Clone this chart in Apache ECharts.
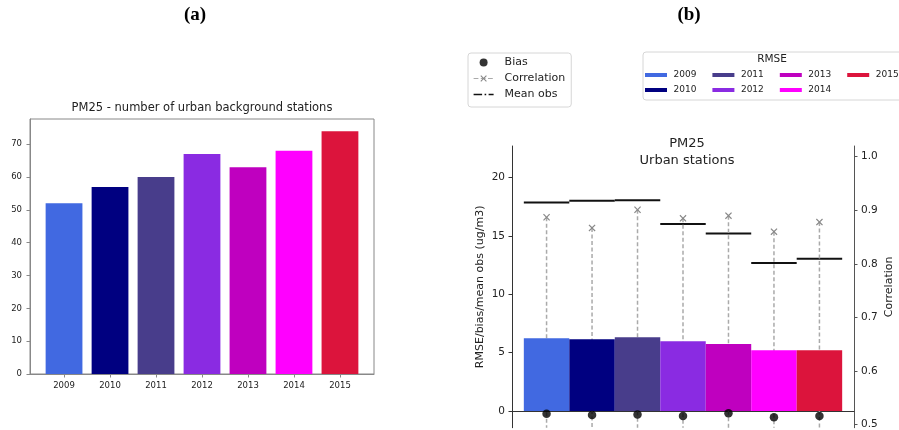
<!DOCTYPE html>
<html>
<head>
<meta charset="utf-8">
<script src="https://cdn.jsdelivr.net/npm/echarts@6/dist/echarts.min.js"></script>
<style>
  html, body { margin: 0; padding: 0; background: #fff; }
  #main { width: 899px; height: 430px; }
</style>
</head>
<body>
<div id="main"></div>
<script>
// data
var years = ['2009', '2010', '2011', '2012', '2013', '2014', '2015'];
var yearColors = ['#4169E1', '#000080', '#483D8B', '#8A2BE2', '#BF00BF', '#FF00FF', '#DC143C'];
var stationCounts = [52, 57, 60, 67, 63, 68, 74];   // panel (a)
var rmse = [6.23, 6.14, 6.32, 5.97, 5.74, 5.2, 5.2];  // panel (b), bars
var meanObs = [17.85, 18.0, 18.05, 16.02, 15.2, 12.68, 13.05];
var bias = [-0.23, -0.34, -0.3, -0.43, -0.2, -0.54, -0.43];
var correlation = [0.887, 0.867, 0.901, 0.885, 0.890, 0.860, 0.878];
var countTicks = [0, 10, 20, 30, 40, 50, 60, 70];
var rmseTicks = [0, 5, 10, 15, 20];
var corrTicks = [0.5, 0.6, 0.7, 0.8, 0.9, 1.0];
var yearPos = [0, 1, 2, 3, 4, 5, 6];

var FONT = 'DejaVu Sans';
var chart = echarts.init(document.getElementById('main'), null, { renderer: 'canvas' });

var xMark = 'path://M0,1.2 L1.2,0 L5,3.8 L8.8,0 L10,1.2 L6.2,5 L10,8.8 L8.8,10 L5,6.2 L1.2,10 L0,8.8 L3.8,5 Z';
var dashDot = 'path://M0,0h8.5v1.6h-8.5z M11,0h1.6v1.6h-1.6z M15,0h5v1.6h-5z';

var series = [];
// (a) stations per year
series.push({
  name: 'stations',
  type: 'bar',
  xAxisIndex: 0,
  yAxisIndex: 0,
  barWidth: '80%',
  data: stationCounts.map(function (v, i) {
    return { value: [i, v], itemStyle: { color: yearColors[i] } };
  })
});
// (b) RMSE, one series per year so the legend gets one entry each
years.forEach(function (y, i) {
  series.push({
    name: y,
    type: 'bar',
    xAxisIndex: 1,
    yAxisIndex: 1,
    barWidth: '100%',
    barGap: '-100%',
    itemStyle: { color: yearColors[i] },
    data: [[i, rmse[i]]]
  });
});
series.push({
  name: 'Mean obs',
  type: 'custom',
  xAxisIndex: 1,
  yAxisIndex: 1,
  itemStyle: { color: '#111' },
  data: meanObs.map(function (v, i) { return [i, v]; }),
  renderItem: function (params, api) {
    var x = api.value(0), y = api.value(1);
    var p0 = api.coord([x - 0.5, y]);
    var p1 = api.coord([x + 0.5, y]);
    return {
      type: 'line',
      shape: { x1: p0[0], y1: p0[1], x2: p1[0], y2: p1[1] },
      style: { stroke: '#111', lineWidth: 2 }
    };
  }
});
series.push({
  name: 'corrStem',
  type: 'custom',
  xAxisIndex: 1,
  yAxisIndex: 2,
  data: correlation.map(function (v, i) { return [i, v]; }),
  renderItem: function (params, api) {
    var p = api.coord([api.value(0), api.value(1)]);
    var bottom = params.coordSys.y + params.coordSys.height;
    return {
      type: 'line',
      shape: { x1: p[0], y1: p[1], x2: p[0], y2: bottom },
      style: { stroke: '#aaaaaa', lineWidth: 1.5, lineDash: [4, 2.5] }
    };
  }
});
series.push({
  name: 'Correlation',
  type: 'line',
  xAxisIndex: 1,
  yAxisIndex: 2,
  symbol: xMark,
  symbolSize: 7,
  lineStyle: { opacity: 0 },
  itemStyle: { color: '#888888' },
  data: correlation.map(function (v, i) { return [i, v]; })
});
series.push({
  name: 'Bias',
  type: 'scatter',
  xAxisIndex: 1,
  yAxisIndex: 1,
  symbol: 'circle',
  symbolSize: 8.5,
  itemStyle: { color: '#000' },
  data: bias.map(function (v, i) { return [i, v]; })
});

var option = {
  animation: false,
  textStyle: { fontFamily: FONT },
  title: [
    { text: '(a)', left: 195, top: 6, padding: 0, textAlign: 'center',
      textStyle: { fontFamily: 'Liberation Serif', fontWeight: 'bold', fontSize: 19, color: '#000' } },
    { text: '(b)', left: 689, top: 6, padding: 0, textAlign: 'center',
      textStyle: { fontFamily: 'Liberation Serif', fontWeight: 'bold', fontSize: 19, color: '#000' } },
    { text: 'PM25 - number of urban background stations', left: 202, top: 102, padding: 0, textAlign: 'center',
      textStyle: { fontFamily: FONT, fontWeight: 'normal', fontSize: 11.5, color: '#222' } },
    { text: 'PM25\nUrban stations', left: 687, top: 135, padding: 0, textAlign: 'center',
      textStyle: { fontFamily: FONT, fontWeight: 'normal', fontSize: 13, lineHeight: 17, color: '#222' } },
    { text: 'RMSE', left: 772, top: 54, padding: 0, textAlign: 'center',
      textStyle: { fontFamily: FONT, fontWeight: 'normal', fontSize: 10.5, color: '#222' } }
  ],
  legend: [
    {
      data: [
        { name: 'Bias', icon: 'circle' },
        { name: 'Correlation', lineStyle: { color: '#aaaaaa', type: 'dashed', width: 1.2, opacity: 1 } },
        { name: 'Mean obs', icon: dashDot }
      ],
      orient: 'vertical',
      left: 468, top: 53,
      padding: [4, 6, 7, 5],
      itemWidth: 20, itemHeight: 8, itemGap: 5,
      borderColor: '#d6d6d6', borderWidth: 1, borderRadius: 3,
      textStyle: { fontFamily: FONT, fontSize: 11, color: '#222', padding: [0, 0, 0, 6] },
      selectedMode: false
    },
    {
      data: ['2009', '2011', '2013', '2015'],
      orient: 'horizontal',
      left: 643, top: 52, width: 300,
      padding: [18.5, 80, 20.5, 2],
      itemWidth: 22, itemHeight: 4, itemGap: 16, icon: 'rect',
      borderColor: '#d6d6d6', borderWidth: 1, borderRadius: 3,
      textStyle: { fontFamily: FONT, fontSize: 9, color: '#222', padding: [0, 0, 0, 1.5] },
      selectedMode: false
    },
    {
      data: ['2010', '2012', '2014'],
      orient: 'horizontal',
      left: 645, top: 85.5, width: 300,
      padding: 0,
      itemWidth: 22, itemHeight: 4, itemGap: 16, icon: 'rect',
      textStyle: { fontFamily: FONT, fontSize: 9, color: '#222', padding: [0, 0, 0, 1.5] },
      selectedMode: false
    }
  ],
  grid: [
    { left: 30, top: 119, width: 344, height: 255, show: true, borderColor: '#888', borderWidth: 1 },
    { left: 512, top: 146, width: 342, height: 282 }
  ],
  xAxis: [
    {
      gridIndex: 0, type: 'value', min: -0.74, max: 6.74,
      axisLine: { onZero: false, lineStyle: { color: '#888' } },
      axisTick: { customValues: yearPos, length: 3.5, lineStyle: { color: '#888' } },
      axisLabel: { customValues: yearPos, margin: 7, fontSize: 8.5, color: '#222',
        formatter: function (v) { return years[Math.round(v)]; } },
      splitLine: { show: false }
    },
    {
      gridIndex: 1, type: 'value', min: -0.76, max: 6.76,
      axisLine: { onZero: true, lineStyle: { color: '#333' } },
      axisTick: { show: false },
      axisLabel: { show: false },
      splitLine: { show: false }
    }
  ],
  yAxis: [
    {
      gridIndex: 0, type: 'value', min: 0, max: 77.7,
      axisLine: { show: true, onZero: false, lineStyle: { color: '#888' } },
      axisTick: { show: true, customValues: countTicks, length: 3.5, lineStyle: { color: '#888' } },
      axisLabel: { customValues: countTicks, margin: 8, fontSize: 8.5, color: '#222' },
      splitLine: { show: false }
    },
    {
      gridIndex: 1, type: 'value', min: -1.43, max: 22.7,
      name: 'RMSE/bias/mean obs (ug/m3)', nameLocation: 'middle', nameGap: 26,
      nameTextStyle: { fontFamily: FONT, fontSize: 11, color: '#222' },
      axisLine: { show: true, onZero: false, lineStyle: { color: '#333' } },
      axisTick: { show: true, customValues: rmseTicks, length: 3.5, lineStyle: { color: '#333' } },
      axisLabel: { customValues: rmseTicks, margin: 7, fontSize: 10.5, color: '#222' },
      splitLine: { show: false }
    },
    {
      gridIndex: 1, type: 'value', position: 'right', min: 0.494, max: 1.02,
      name: 'Correlation', nameLocation: 'middle', nameGap: 30, nameRotate: 90,
      nameTextStyle: { fontFamily: FONT, fontSize: 11, color: '#222' },
      axisLine: { show: true, onZero: false, lineStyle: { color: '#555' } },
      axisTick: { show: true, customValues: corrTicks, length: 3.5, lineStyle: { color: '#555' } },
      axisLabel: { customValues: corrTicks, margin: 7, fontSize: 10.5, color: '#222',
        formatter: function (v) { return v.toFixed(1); } },
      splitLine: { show: false }
    }
  ],
  series: series
};

chart.setOption(option);
</script>
</body>
</html>
